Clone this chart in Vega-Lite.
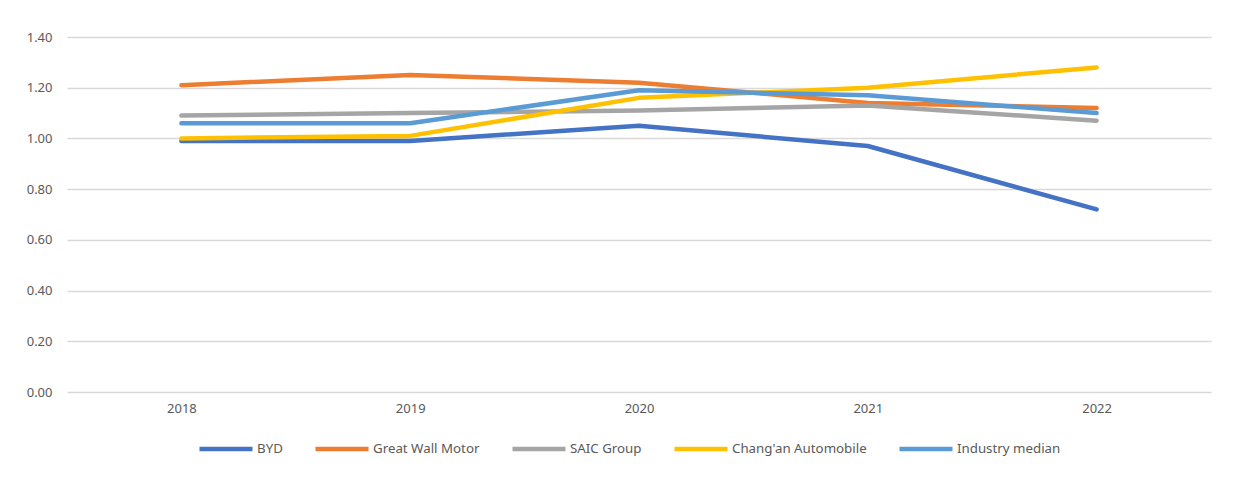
{
  "$schema": "https://vega.github.io/schema/vega-lite/v6.json",
  "width": 1144,
  "height": 355,
  "autosize": {"type": "none"},
  "padding": {"left": 67, "top": 37, "right": 26, "bottom": 85},
  "background": "white",
  "config": {
    "view": {"stroke": null},
    "font": "Noto Sans",
    "axis": {"labelFont": "Noto Sans", "labelFontSize": 13, "labelColor": "#595959"},
    "legend": {"labelFont": "Noto Sans", "labelFontSize": 13.3, "labelColor": "#595959"}
  },
  "data": {
    "values": [
      {"year": "2018", "series": "BYD", "value": 0.99},
      {"year": "2019", "series": "BYD", "value": 0.99},
      {"year": "2020", "series": "BYD", "value": 1.05},
      {"year": "2021", "series": "BYD", "value": 0.97},
      {"year": "2022", "series": "BYD", "value": 0.72},
      {"year": "2018", "series": "Great Wall Motor", "value": 1.21},
      {"year": "2019", "series": "Great Wall Motor", "value": 1.25},
      {"year": "2020", "series": "Great Wall Motor", "value": 1.22},
      {"year": "2021", "series": "Great Wall Motor", "value": 1.14},
      {"year": "2022", "series": "Great Wall Motor", "value": 1.12},
      {"year": "2018", "series": "SAIC Group", "value": 1.09},
      {"year": "2019", "series": "SAIC Group", "value": 1.10},
      {"year": "2020", "series": "SAIC Group", "value": 1.11},
      {"year": "2021", "series": "SAIC Group", "value": 1.13},
      {"year": "2022", "series": "SAIC Group", "value": 1.07},
      {"year": "2018", "series": "Chang'an Automobile", "value": 1.00},
      {"year": "2019", "series": "Chang'an Automobile", "value": 1.01},
      {"year": "2020", "series": "Chang'an Automobile", "value": 1.16},
      {"year": "2021", "series": "Chang'an Automobile", "value": 1.20},
      {"year": "2022", "series": "Chang'an Automobile", "value": 1.28},
      {"year": "2018", "series": "Industry median", "value": 1.06},
      {"year": "2019", "series": "Industry median", "value": 1.06},
      {"year": "2020", "series": "Industry median", "value": 1.19},
      {"year": "2021", "series": "Industry median", "value": 1.17},
      {"year": "2022", "series": "Industry median", "value": 1.10}
    ]
  },
  "mark": {"type": "line", "strokeWidth": 4.5, "strokeCap": "round", "strokeJoin": "round"},
  "encoding": {
    "x": {
      "field": "year",
      "type": "ordinal",
      "scale": {"type": "point", "padding": 0.5},
      "axis": {"title": null, "labelAngle": 0, "domain": false, "ticks": false, "grid": false, "labelPadding": 10}
    },
    "y": {
      "field": "value",
      "type": "quantitative",
      "scale": {"domain": [0, 1.4], "nice": false, "zero": true},
      "axis": {
        "title": null,
        "format": ".2f",
        "values": [0, 0.2, 0.4, 0.6, 0.8, 1.0, 1.2, 1.4],
        "domain": false,
        "ticks": false,
        "labelPadding": 15,
        "gridColor": "#D9D9D9",
        "gridWidth": 1.5
      }
    },
    "color": {
      "field": "series",
      "type": "nominal",
      "sort": ["BYD", "Great Wall Motor", "SAIC Group", "Chang'an Automobile", "Industry median"],
      "scale": {
        "domain": ["BYD", "Great Wall Motor", "SAIC Group", "Chang'an Automobile", "Industry median"],
        "range": ["#4472C4", "#ED7D31", "#A5A5A5", "#FFC000", "#5B9BD5"]
      },
      "legend": {
        "orient": "none",
        "legendX": 130,
        "legendY": 383,
        "direction": "horizontal",
        "title": null,
        "padding": 0,
        "symbolType": "stroke",
        "symbolSize": 2809,
        "symbolStrokeWidth": 4.5,
        "labelOffset": 2,
        "columnPadding": 23
      }
    }
  }
}
